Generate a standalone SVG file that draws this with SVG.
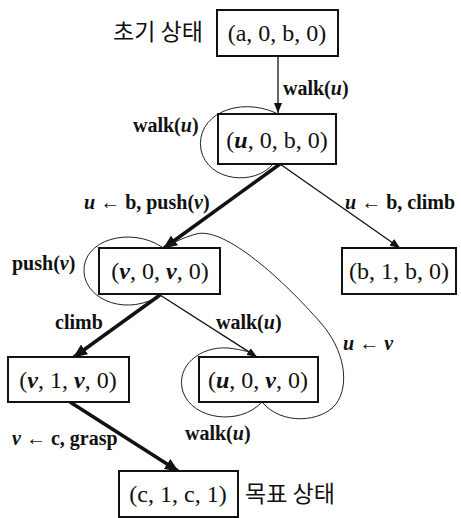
<svg xmlns="http://www.w3.org/2000/svg" width="461" height="518" viewBox="0 0 461 518">
<style>
.box{fill:#fff;stroke:#111;stroke-width:2}
.bt{font-family:"Liberation Serif",serif;font-size:24px;fill:#111;text-anchor:middle}
.lb{font-family:"Liberation Serif",serif;font-size:20px;font-weight:bold;fill:#111}
.kr{font-family:"Noto Sans CJK KR",sans-serif;font-size:23px;fill:#111}
.it{font-style:italic;font-weight:bold}
.thin{fill:none;stroke:#111;stroke-width:1.3}
.thick{fill:none;stroke:#111;stroke-width:3.5}
.loop{fill:none;stroke:#222;stroke-width:1}
</style>
<defs>
<marker id="ah" viewBox="0 0 10 8" refX="10" refY="4" markerWidth="10" markerHeight="8" markerUnits="userSpaceOnUse" orient="auto"><path d="M0,0 L10,4 L0,8 z" fill="#111"/></marker>
<marker id="ahb" viewBox="0 0 14 12" refX="13" refY="6" markerWidth="14" markerHeight="12" markerUnits="userSpaceOnUse" orient="auto"><path d="M0,0 L14,6 L0,12 z" fill="#111"/></marker>
</defs>
<g id="connectors">
<line class="thin" x1="278" y1="56" x2="278" y2="113" marker-end="url(#ah)"/>
<line class="thick" x1="280" y1="164" x2="164" y2="248" marker-end="url(#ahb)"/>
<line class="thin" x1="280" y1="164" x2="400" y2="248" marker-end="url(#ah)"/>
<line class="thick" x1="160" y1="295" x2="74" y2="357" marker-end="url(#ahb)"/>
<line class="thin" x1="160" y1="295" x2="257" y2="357" marker-end="url(#ah)"/>
<line class="thick" x1="70" y1="402" x2="178" y2="471" marker-end="url(#ahb)"/>
<path class="loop" d="M273,164 C255,186 208,182 201,150 C195,115 238,96 276,113"/>
<path class="loop" d="M160,295 C130,316 86,302 84,272 C82,240 130,226 162,247"/>
<path class="loop" d="M262,402 C282,426 322,422 336,404 C350,385 345,350 320,322 C285,282 225,226 196,234 C182,238 172,243 166,248"/>
<path class="loop" d="M262,402 C240,426 193,420 183,392 C175,366 200,346 228,348 C244,350 252,352 257,357"/>
<text class="lb" x="283" y="95">walk(<tspan class="it">u</tspan>)</text>
<text class="lb" x="133" y="132">walk(<tspan class="it">u</tspan>)</text>
<text class="lb" x="84" y="209"><tspan class="it">u</tspan> ← b, push(<tspan class="it">v</tspan>)</text>
<text class="lb" x="345" y="209"><tspan class="it">u</tspan> ← b, climb</text>
<text class="lb" x="12" y="270">push(<tspan class="it">v</tspan>)</text>
<text class="lb" x="55" y="329">climb</text>
<text class="lb" x="216" y="329">walk(<tspan class="it">u</tspan>)</text>
<text class="lb" x="343" y="350"><tspan class="it">u</tspan> ← <tspan class="it">v</tspan></text>
<text class="lb" x="185" y="440">walk(<tspan class="it">u</tspan>)</text>
<text class="lb" x="12" y="445"><tspan class="it">v</tspan> ← c, grasp</text>
</g>
<g id="n1">
<text class="kr" x="113" y="40">초기 상태</text>
<rect class="box" x="217" y="10" width="121" height="46"/>
<text class="bt" x="277" y="41">(a, 0, b, 0)</text>
</g>
<g id="n2">
<rect class="box" x="218" y="114" width="118" height="50"/>
<text class="bt" x="277" y="148">(<tspan class="it">u</tspan>, 0, b, 0)</text>
</g>
<g id="n3">
<rect class="box" x="99" y="248" width="121" height="46"/>
<text class="bt" x="160" y="279">(<tspan class="it">v</tspan>, 0, <tspan class="it">v</tspan>, 0)</text>
</g>
<g id="n4">
<rect class="box" x="342" y="248" width="114" height="46"/>
<text class="bt" x="399" y="279">(b, 1, b, 0)</text>
</g>
<g id="n5">
<rect class="box" x="8" y="357" width="121" height="45"/>
<text class="bt" x="68" y="388">(<tspan class="it">v</tspan>, 1, <tspan class="it">v</tspan>, 0)</text>
</g>
<g id="n6">
<rect class="box" x="199" y="357" width="119" height="45"/>
<text class="bt" x="258" y="388">(<tspan class="it">u</tspan>, 0, <tspan class="it">v</tspan>, 0)</text>
</g>
<g id="n7">
<rect class="box" x="119" y="471" width="119" height="46"/>
<text class="bt" x="178" y="502">(c, 1, c, 1)</text>
<text class="kr" x="245" y="502">목표 상태</text>
</g>
</svg>
